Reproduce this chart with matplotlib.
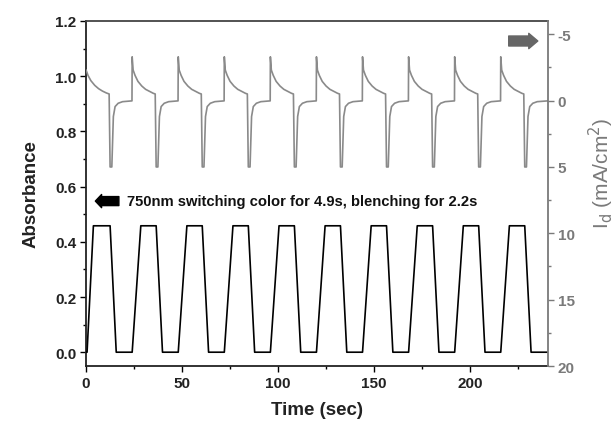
import matplotlib
matplotlib.use("Agg")
import matplotlib.pyplot as plt
from matplotlib.ticker import MultipleLocator

plt.rcParams['font.family'] = ['Liberation Sans', 'DejaVu Sans']
plt.rcParams['axes.unicode_minus'] = False

# ---- Absorbance (left axis) ----
abs_time = [0.0, 0.5, 3.8, 12.5, 15.7,
            24.0, 28.5, 36.5, 39.8,
            48.0, 52.5, 60.5, 63.8,
            72.0, 76.5, 84.5, 87.8,
            96.0, 100.5, 108.5, 111.8,
            120.0, 124.5, 132.5, 135.8,
            144.0, 148.5, 156.5, 159.8,
            168.0, 172.5, 180.5, 183.8,
            192.0, 196.5, 204.5, 207.8,
            216.0, 220.5, 228.5, 231.8, 240.6]
absorbance = [0.0, 0.0, 0.458, 0.458, 0.0,
              0.0, 0.458, 0.458, 0.0,
              0.0, 0.458, 0.458, 0.0,
              0.0, 0.458, 0.458, 0.0,
              0.0, 0.458, 0.458, 0.0,
              0.0, 0.458, 0.458, 0.0,
              0.0, 0.458, 0.458, 0.0,
              0.0, 0.458, 0.458, 0.0,
              0.0, 0.458, 0.458, 0.0,
              0.0, 0.458, 0.458, 0.0, 0.0]

# ---- Current density (right axis) ----
cur_time = [0.0, 1.0, 2.5, 4.5, 6.5, 8.5, 10.5, 12.0, 12.5, 13.4, 14.2, 15.1, 16.7, 19.0, 23.9,
            24.0, 24.5, 25.5, 27.0, 29.0, 31.0, 33.0, 35.0, 36.0, 36.5, 37.4, 38.2, 39.1, 40.7, 43.0, 47.9,
            48.0, 48.5, 49.5, 51.0, 53.0, 55.0, 57.0, 59.0, 60.0, 60.5, 61.4, 62.2, 63.1, 64.7, 67.0, 71.9,
            72.0, 72.5, 73.5, 75.0, 77.0, 79.0, 81.0, 83.0, 84.0, 84.5, 85.4, 86.2, 87.1, 88.7, 91.0, 95.9,
            96.0, 96.5, 97.5, 99.0, 101.0, 103.0, 105.0, 107.0, 108.0, 108.5, 109.4, 110.2, 111.1, 112.7, 115.0, 119.9,
            120.0, 120.5, 121.5, 123.0, 125.0, 127.0, 129.0, 131.0, 132.0, 132.5, 133.4, 134.2, 135.1, 136.7, 139.0, 143.9,
            144.0, 144.5, 145.5, 147.0, 149.0, 151.0, 153.0, 155.0, 156.0, 156.5, 157.4, 158.2, 159.1, 160.7, 163.0, 167.9,
            168.0, 168.5, 169.5, 171.0, 173.0, 175.0, 177.0, 179.0, 180.0, 180.5, 181.4, 182.2, 183.1, 184.7, 187.0, 191.9,
            192.0, 192.5, 193.5, 195.0, 197.0, 199.0, 201.0, 203.0, 204.0, 204.5, 205.4, 206.2, 207.1, 208.7, 211.0, 215.9,
            216.0, 216.5, 217.5, 219.0, 221.0, 223.0, 225.0, 227.0, 228.0, 228.5, 229.4, 230.2, 231.1, 232.7, 235.0, 240.6]
current = [-2.3, -1.9, -1.5, -1.15, -0.9, -0.72, -0.58, -0.5, 5.0, 5.0, 1.2, 0.45, 0.2, 0.08, 0.02,
           -3.3, -2.3, -1.9, -1.45, -1.1, -0.85, -0.7, -0.55, -0.5, 5.0, 5.0, 1.2, 0.45, 0.2, 0.08, 0.02,
           -3.3, -2.3, -1.9, -1.45, -1.1, -0.85, -0.7, -0.55, -0.5, 5.0, 5.0, 1.2, 0.45, 0.2, 0.08, 0.02,
           -3.3, -2.3, -1.9, -1.45, -1.1, -0.85, -0.7, -0.55, -0.5, 5.0, 5.0, 1.2, 0.45, 0.2, 0.08, 0.02,
           -3.3, -2.3, -1.9, -1.45, -1.1, -0.85, -0.7, -0.55, -0.5, 5.0, 5.0, 1.2, 0.45, 0.2, 0.08, 0.02,
           -3.3, -2.3, -1.9, -1.45, -1.1, -0.85, -0.7, -0.55, -0.5, 5.0, 5.0, 1.2, 0.45, 0.2, 0.08, 0.02,
           -3.3, -2.3, -1.9, -1.45, -1.1, -0.85, -0.7, -0.55, -0.5, 5.0, 5.0, 1.2, 0.45, 0.2, 0.08, 0.02,
           -3.3, -2.3, -1.9, -1.45, -1.1, -0.85, -0.7, -0.55, -0.5, 5.0, 5.0, 1.2, 0.45, 0.2, 0.08, 0.02,
           -3.3, -2.3, -1.9, -1.45, -1.1, -0.85, -0.7, -0.55, -0.5, 5.0, 5.0, 1.2, 0.45, 0.2, 0.08, 0.02,
           -3.3, -2.3, -1.9, -1.45, -1.1, -0.85, -0.7, -0.55, -0.5, 5.0, 5.0, 1.2, 0.45, 0.2, 0.08, 0.02]

x_ticks = [0, 50, 100, 150, 200]
left_ticks = [0.0, 0.2, 0.4, 0.6, 0.8, 1.0, 1.2]
right_ticks = [-5, 0, 5, 10, 15, 20]
note = "750nm switching color for 4.9s, blenching for 2.2s"

GRAY = '#7a7a7a'
fig = plt.figure(figsize=(6.15, 4.27), dpi=100)
ax = fig.add_axes([0.140, 0.1405, 0.751, 0.808])
ax2 = ax.twinx()

ax.plot(abs_time, absorbance, color='black', lw=1.2, zorder=3)
ax2.plot(cur_time, current, color='#8a8a8a', lw=1.2)

ax.set_xlim(0, 240.6)
ax.set_ylim(-0.05, 1.2)
ax2.set_ylim(20, -6)

ax.set_xticks(x_ticks)
ax.set_yticks(left_ticks)
ax.set_yticklabels([f"{v:.1f}" for v in left_ticks])
ax.xaxis.set_minor_locator(MultipleLocator(25))
ax.yaxis.set_minor_locator(MultipleLocator(0.1))
ax2.set_yticks(right_ticks)
ax2.yaxis.set_minor_locator(MultipleLocator(2.5))

ax.tick_params(which='major', direction='out', length=4, width=1.0, labelsize=11, pad=3)
ax.tick_params(which='minor', direction='out', length=2.5, width=1.0)
ax.tick_params(top=False, right=False, which='both')
for lab in ax.get_xticklabels() + ax.get_yticklabels():
    lab.set_fontweight('bold')
    lab.set_color('#222222')

ax2.tick_params(which='major', direction='out', length=4, width=1.0, labelsize=11,
                colors=GRAY, pad=3)
ax2.tick_params(which='minor', direction='out', length=2.5, width=1.0, colors=GRAY)
for lab in ax2.get_yticklabels():
    lab.set_fontweight('bold')

for s in ('left', 'bottom', 'top'):
    ax.spines[s].set_linewidth(1.3)
    ax.spines[s].set_color('#222222')
ax.spines['top'].set_color('#444444')
ax.spines['right'].set_visible(False)
for s in ('left', 'bottom', 'top'):
    ax2.spines[s].set_visible(False)
ax2.spines['right'].set_color(GRAY)
ax2.spines['right'].set_linewidth(1.3)

ax.set_xlabel('Time (sec)', fontsize=13.5, fontweight='bold', color='#222222', labelpad=8)
ax.set_ylabel('Absorbance', fontsize=13.5, fontweight='bold', color='#222222', labelpad=11)
ax2.set_ylabel(r'I$_\mathrm{d}$ (mA/cm$^2$)', fontsize=15, color=GRAY)
ax2.yaxis.set_label_coords(1.084, 0.56)

# annotation text and arrows
ax.text(0.089, 0.478, note, transform=ax.transAxes, fontsize=10.6, fontweight='bold',
        color='#111111', va='center', ha='left')
ax.annotate('', xy=(0.020, 0.478), xytext=(0.071, 0.478), xycoords='axes fraction',
            arrowprops=dict(arrowstyle='simple,head_length=0.45,head_width=0.95,tail_width=0.65',
                            color='black', shrinkA=0, shrinkB=0, mutation_scale=10))
ax.annotate('', xy=(0.978, 0.942), xytext=(0.915, 0.942), xycoords='axes fraction',
            arrowprops=dict(arrowstyle='simple,head_length=0.65,head_width=1.1,tail_width=0.72',
                            color='#666666', shrinkA=0, shrinkB=0, mutation_scale=10))

fig.savefig('out.png', dpi=100)
